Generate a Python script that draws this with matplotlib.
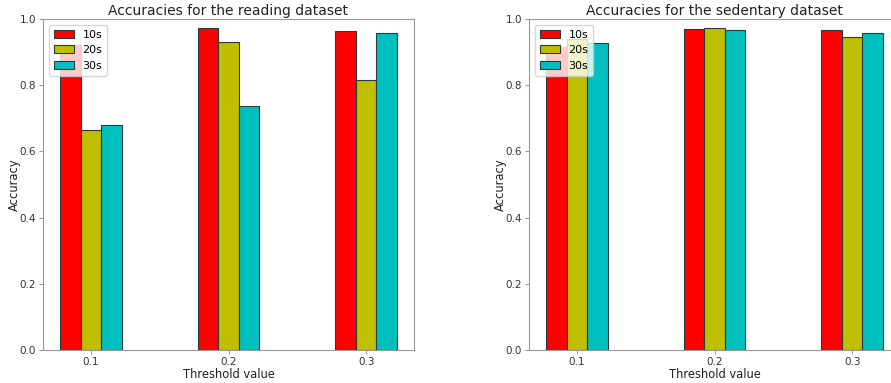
import matplotlib
matplotlib.use("Agg")
import matplotlib.pyplot as plt
import numpy as np

thresholds = ["0.1", "0.2", "0.3"]
series_labels = ["10s", "20s", "30s"]
colors = ["r", "y", "c"]

reading_10s = [0.922, 0.973, 0.964]
reading_20s = [0.664, 0.931, 0.816]
reading_30s = [0.680, 0.737, 0.957]

sedentary_10s = [0.915, 0.970, 0.967]
sedentary_20s = [0.940, 0.973, 0.946]
sedentary_30s = [0.928, 0.967, 0.957]

W, H = 891, 383
fig = plt.figure(figsize=(W / 100, H / 100), dpi=100)

def draw(ax, vals, title):
    x = np.arange(len(thresholds))
    w = 0.15
    for i, (v, c, lab) in enumerate(zip(vals, colors, series_labels)):
        ax.bar(x + (i - 1) * w, v, w, color=c, edgecolor="#2a3a3a", linewidth=0.8, label=lab)
    ax.set_xticks(x)
    ax.set_xticklabels(thresholds)
    ax.set_ylim(0, 1)
    ax.set_xlabel("Threshold value", fontsize=8.3, labelpad=1, color="#222222")
    ax.set_ylabel("Accuracy", fontsize=8.3, labelpad=-1, color="#222222")
    ax.set_title(title, fontsize=10, pad=3, color="#222222")
    ax.tick_params(labelsize=7.5, color="#999999", length=3, pad=2, labelcolor="#333333")
    for s in ax.spines.values():
        s.set_color("#999999")
    ax.legend(loc="upper left", fontsize=8, handlelength=1.8, borderpad=0.45,
              labelspacing=0.5, handletextpad=0.8)

bottom = (H - 350) / H
height = 331 / H
ax1 = fig.add_axes([43 / W, bottom, 371 / W, height])
ax2 = fig.add_axes([529 / W, bottom, 371 / W, height])
draw(ax1, [reading_10s, reading_20s, reading_30s], "Accuracies for the reading dataset")
draw(ax2, [sedentary_10s, sedentary_20s, sedentary_30s], "Accuracies for the sedentary dataset")

fig.savefig("out.png", dpi=100)
